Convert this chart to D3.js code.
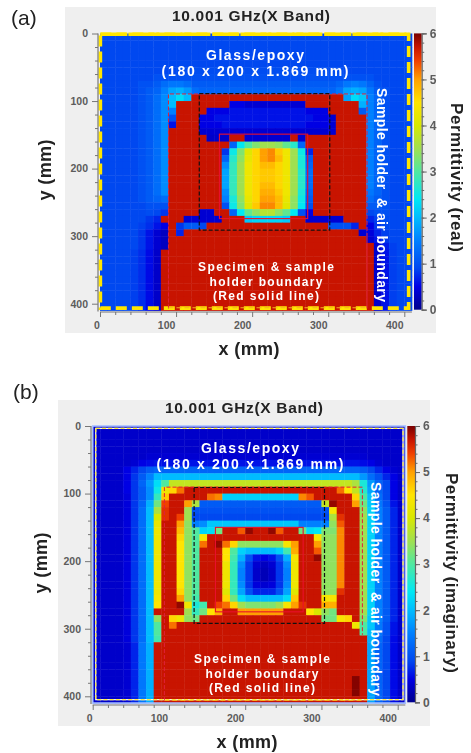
<!DOCTYPE html>
<html><head><meta charset="utf-8">
<script src="https://cdn.jsdelivr.net/npm/d3@7"></script>
<style>html,body{margin:0;padding:0;background:#fff}svg{display:block;filter:blur(.5px)}text{font-family:"Liberation Sans",Arial,sans-serif}</style>
</head><body><svg id="c" width="471" height="753"></svg>
<script>
const R = 5.7, D = 5.95;
// Panel (a): real permittivity, 41 x 41 cells of 10 mm (c0-9 | c10-19 | c20-29 | c30-40)
const realRows = [
[.9,.9,.9,.9,.9,.9,.9,.9,.9,.9, .9,.9,.9,.9,.9,.9,.9,.9,.9,.9, .9,.9,.9,.9,.9,.9,.9,.9,.9,.9, .9,.9,.9,.9,.9,.9,.9,.9,.9,.9,.9],
[.9,.9,.9,.9,.9,.9,.9,.9,.9,.9, .9,.9,.9,.9,.9,.9,.9,.9,.9,.9, .9,.9,.9,.9,.9,.9,.9,.9,.9,.9, .9,.9,.9,.9,.9,.9,.9,.9,.9,.9,.9],
[.9,.9,.9,.9,.9,.9,.9,.9,.9,.9, .9,.9,.9,.9,.9,.9,.9,.9,.9,.9, .9,.9,.9,.9,.9,.9,.9,.9,.9,.9, .9,.9,.9,.9,.9,.9,.9,.9,.9,.9,.9],
[.9,.9,.9,.9,.9,.9,.9,.9,.9,.9, .9,.9,.9,.9,.9,.9,.9,.9,.9,.9, .9,.9,.9,.9,.9,.9,.9,.9,.9,.9, .9,.9,.9,.9,.9,.9,.9,.9,.9,.9,.9],
[.9,.9,.9,.9,.9,.9,.9,.9,.9,.9, .9,.9,.9,.9,.9,.9,.9,.9,.9,.9, .9,.9,.9,.9,.9,.9,.9,.9,.9,.9, .9,.9,.9,.9,.9,.9,.9,.9,.9,.9,.9],
[.9,.9,.9,.9,.9,.9,.9,.9,.9,.9, .95,.95,.95,.95,.95,.95,.95,.95,.95,.95, .95,.95,.95,.95,.95,.95,.95,.95,.95,.95, .95,.95,.9,.9,.9,.9,.9,.9,.9,.9,.9],
[.9,.9,.9,.9,.9,.9,.9,1,1,1, 1,1,1,1,1,1,1,1,1,1, 1,1,1,1,1,1,1,1,1,1, 1,1,1,1,1,1,.9,.9,.9,.9,.9],
[.9,.9,.9,.9,.9,1,1,1.1,1.3,1.4, 1.4,1.3,1.1,1.1,1.1,1.1,1.1,1.1,1.1,1.1, 1.1,1.1,1.1,1.1,1.1,1.1,1.1,1.1,1.1,1.1, 1.1,1.2,1.4,1.5,1.4,1.2,1,.9,.9,.9,.9],
[.9,.9,.9,.9,.9,1,1.1,1.2,1.5,1.8, 1.9,1.7,1.3,1.2,1.2,1.2,1.2,1.2,1.2,1.2, 1.2,1.2,1.2,1.2,1.2,1.2,1.2,1.2,1.2,1.2, 1.2,1.4,1.8,1.9,1.8,1.4,1.1,1,.9,.9,.9],
[.9,.9,.9,.9,.9,1,1.1,1.3,1.6,2, 2.3,2,R,R,R,R,R,R,R,R, R,R,R,R,R,R,R,R,R,R, R,R,1.8,2.3,2.1,1.5,1.2,1,.9,.9,.9],
[.9,.9,.9,.9,.9,1,1.1,1.3,1.6,2, R,R,R,R,R,R,R,.5,.5,.4, .4,.4,.4,.4,.4,.4,.4,R,R,R, R,R,R,R,1.9,1.5,1.2,1,.9,.9,.9],
[.9,.9,.9,.9,.9,1,1.1,1.3,1.6,1.5, R,R,R,R,.5,.5,.5,.6,.6,.6, .6,.6,.6,.6,.6,.6,.6,.5,.5,.5, R,R,R,R,1.1,1.5,1.2,1,.9,.9,.9],
[.9,.9,.9,.9,.9,1,1.1,1.3,1.6,1, R,R,R,.5,.5,.6,.6,.6,.6,.6, .6,.6,.6,.6,.6,.6,.6,.6,.5,.5, .4,R,R,R,R,1.5,1.2,1,.9,.9,.9],
[.9,.9,.9,.9,.9,1,1.1,1.3,1.6,.6, R,R,R,.5,.5,.5,.6,.6,.6,.6, .6,.6,.6,.6,.6,.6,.6,.5,.5,.5, .4,R,R,R,R,1.5,1.2,1,.9,.9,.9],
[.9,.9,.9,.9,.9,1,1.1,1.3,1.6,R, R,R,R,.4,.4,.4,.4,.4,.4,.4, .4,.4,.4,.4,.4,.4,.4,.4,.4,.4, .4,R,R,R,R,1.5,1.2,1,.9,.9,.9],
[.9,.9,.9,.9,.9,1,1.1,1.3,1.6,R, R,R,R,R,.35,.35,.35,R,R,.4, .4,.4,.4,.4,.4,R,.4,R,R,R, R,R,R,R,R,1.5,1.2,1,.9,.9,.9],
[.9,.9,.9,.9,.9,1,1.1,1.3,1.6,R, R,R,R,R,R,R,R,1.2,2.4,3, 3.3,3.5,3.5,3.4,3.1,2.7,1.2,R,R,R, R,R,R,R,R,1.5,1.2,1,.9,.9,.9],
[.9,.9,.9,.9,.9,1,1.1,1.3,1.6,R, R,R,R,R,R,R,.8,2.5,3.3,4.1, 4.6,5,5.1,4.7,4.3,3.5,2.5,.7,R,R, R,R,R,R,R,1.5,1.2,1,.9,.9,.9],
[.9,.9,.9,.9,.9,1,1.1,1.3,1.6,R, R,R,R,R,R,R,1.2,2.7,3.4,4.2, 4.6,5,5.1,4.8,4.3,3.5,2.6,1.1,R,R, R,R,R,R,R,1.5,1.2,1,.9,.9,.9],
[.9,.9,.9,.9,.9,1,1.1,1.3,1.6,R, R,R,R,R,R,R,1.6,2.8,3.5,4.3, 4.6,4.8,4.8,4.6,4.3,3.5,2.6,1.2,R,R, R,R,R,R,R,1.5,1.2,1,.9,.9,.9],
[.9,.9,.9,.9,.9,1,1.1,1.3,1.6,R, R,R,R,R,R,R,1.8,2.8,3.5,4.3, 4.6,4.7,4.7,4.6,4.3,3.5,2.7,1.3,R,R, R,R,R,R,R,1.5,1.2,1,.9,.9,.9],
[.9,.9,.9,.9,.9,1,1.1,1.3,1.6,R, R,R,R,R,R,R,1.8,2.8,3.5,4.3, 4.6,4.7,4.7,4.6,4.3,3.5,2.7,1.3,R,R, R,R,R,R,R,1.5,1.2,1,.9,.9,.9],
[.9,.9,.9,.9,.9,1,1.1,1.3,1.6,R, R,R,R,R,R,R,1.8,2.8,3.5,4.3, 4.6,4.8,4.8,4.6,4.3,3.5,2.7,1.3,R,R, R,R,R,R,R,1.5,1.2,1,.9,.9,.9],
[.9,.9,.9,.9,.9,1,1.1,1.3,1.6,R, R,R,R,R,R,R,1.6,2.8,3.5,4.3, 4.6,4.9,4.9,4.7,4.3,3.5,2.6,1.2,R,R, R,R,R,R,R,1.4,1.2,1,.9,.9,.9],
[.9,.9,.9,.9,.9,1,1.1,1.2,1.3,R, R,R,R,R,R,R,1.5,2.6,3.4,4.2, 4.6,5,5,4.8,4.2,3.4,2.5,1.1,R,R, R,R,R,R,R,1.3,1.1,1,.9,.9,.9],
[.9,.9,.9,.9,.9,.9,1,1,1,R, R,R,R,R,R,R,1,2.5,3.3,4.1, 4.7,5.1,5.1,4.8,4.1,3.4,2.4,1,R,R, R,R,R,R,R,1.1,1.1,1,.9,.9,.9],
[.9,.9,.9,.9,.9,.9,.95,.9,.8,R, R,R,R,.4,.4,R,R,1.2,2.4,3.1, 3.4,3.7,3.7,3.4,3.1,2.4,1,.5,R,R, R,R,R,R,R,.9,1,1,.9,.9,.9],
[.9,.9,.9,.9,.9,.9,.8,.7,R,R, R,.4,.4,.4,.4,.4,R,R,R,2.1, 2.2,2.2,2.2,2.2,2.1,R,R,.4,.4,.4, .4,.4,R,R,R,.7,.85,.95,.9,.9,.9],
[.9,.9,.9,.9,.9,.85,.75,.6,.5,R, .8,1.1,1.1,.9,R,R,R,R,R,R, R,R,R,R,R,R,R,R,R,R, 1,1,1,.7,R,.5,.8,.9,.9,.9,.9],
[.9,.9,.9,.9,.9,.8,.6,.4,.3,R, .7,R,R,R,R,R,R,R,R,R, R,R,R,R,R,R,R,R,R,R, R,R,R,R,.4,.45,.7,.85,.9,.9,.9],
[.9,.9,.9,.9,.9,.8,.6,.4,.3,R, R,R,R,R,R,R,R,R,R,R, R,R,R,R,R,R,R,R,R,R, R,R,R,R,R,.4,.6,.8,.9,.9,.9],
[.9,.9,.9,.9,.9,.8,.6,.4,.3,R, R,R,R,R,R,R,R,R,R,R, R,R,R,R,R,R,R,R,R,R, R,R,R,R,R,R,.4,.65,.85,.9,.9],
[.9,.9,.9,.9,.85,.75,.55,.35,R,R, R,R,R,R,R,R,R,R,R,R, R,R,R,R,R,R,R,R,R,R, R,R,R,R,R,R,.35,.6,.85,.9,.9],
[.9,.9,.9,.9,.85,.75,.55,.35,R,R, R,R,R,R,R,R,R,R,R,R, R,R,R,R,R,R,R,R,R,R, R,R,R,R,R,R,.35,.6,.85,.9,.9],
[.9,.9,.9,.9,.85,.75,.55,.35,R,R, R,R,R,R,R,R,R,R,R,R, R,R,R,R,R,R,R,R,R,R, R,R,R,R,R,R,.35,.6,.85,.9,.9],
[.9,.9,.9,.9,.85,.75,.55,.35,R,R, R,R,R,R,R,R,R,R,R,R, R,R,R,R,R,R,R,R,R,R, R,R,R,R,R,R,.35,.6,.85,.9,.9],
[.9,.9,.9,.9,.85,.75,.55,.35,R,R, R,R,R,R,R,R,R,R,R,R, R,R,R,R,R,R,R,R,R,R, R,R,R,R,R,R,.35,.6,.85,.9,.9],
[.9,.9,.9,.9,.85,.75,.55,.35,R,R, R,R,R,R,R,R,R,R,R,R, R,R,R,R,R,R,R,R,R,R, R,R,R,R,R,R,.35,.6,.85,.9,.9],
[.9,.9,.9,.9,.85,.75,.55,.35,R,R, R,R,R,R,R,R,R,R,R,R, R,R,R,R,R,R,R,R,R,R, R,R,R,R,R,R,.35,.6,.85,.9,.9],
[.9,.9,.9,.9,.85,.75,.55,.35,R,R, R,R,R,R,R,R,R,R,R,R, R,R,R,R,R,R,R,R,R,R, R,R,R,R,R,R,.35,.6,.85,.9,.9],
[.9,.9,.9,.9,.85,.75,.55,.35,R,R, R,R,R,R,R,R,R,R,R,R, R,R,R,R,R,R,R,R,R,R, R,R,R,R,R,R,.35,.6,.85,.9,.9]
];
// Panel (b): imaginary permittivity
const imagRows = [
[.35,.35,.35,.35,.35,.35,.35,.35,.35,.35, .35,.35,.35,.35,.35,.35,.35,.35,.35,.35, .35,.35,.35,.35,.35,.35,.35,.35,.35,.35, .35,.35,.35,.35,.35,.35,.35,.35,.35,.35,.35],
[.35,.35,.35,.35,.35,.35,.35,.35,.35,.35, .35,.35,.35,.35,.35,.35,.35,.35,.35,.35, .35,.35,.35,.35,.35,.35,.35,.35,.35,.35, .35,.35,.35,.35,.35,.35,.35,.35,.35,.35,.35],
[.35,.35,.35,.35,.35,.35,.35,.35,.35,.35, .35,.35,.35,.35,.35,.35,.35,.35,.35,.35, .35,.35,.35,.35,.35,.35,.35,.35,.35,.35, .35,.35,.35,.35,.35,.35,.35,.35,.35,.35,.35],
[.35,.35,.35,.35,.35,.35,.35,.35,.35,.35, .35,.35,.35,.35,.35,.35,.35,.35,.35,.35, .35,.35,.35,.35,.35,.35,.35,.35,.35,.35, .35,.35,.35,.35,.35,.35,.35,.35,.35,.35,.35],
[.35,.35,.35,.35,.35,.35,.35,.4,.4,.4, .4,.4,.4,.4,.4,.4,.4,.4,.4,.4, .4,.4,.4,.4,.4,.4,.4,.4,.4,.4, .4,.4,.4,.4,.4,.4,.35,.35,.35,.35,.35],
[.35,.35,.35,.35,.35,.4,.5,.55,.6,.6, .6,.6,.6,.6,.6,.6,.6,.6,.6,.6, .6,.6,.6,.6,.6,.6,.6,.6,.6,.6, .6,.6,.6,.6,.6,.55,.5,.4,.35,.35,.35],
[.35,.35,.35,.35,.5,.7,.9,1.1,1.2,1.2, 1.2,1.2,1.2,1.2,1.2,1.2,1.2,1.2,1.2,1.2, 1.2,1.2,1.2,1.2,1.2,1.2,1.2,1.2,1.2,1.2, 1.2,1.2,1.2,1.2,1.2,1.1,.9,.7,.5,.4,.35],
[.35,.35,.35,.35,.5,.8,1.1,1.5,2,2, 2,2,2,2,2,2,2,2,2,2, 2,2,2,2,2,2,2,2,2,2, 2,2,2,2,2,1.7,1.3,1,.7,.5,.35],
[.35,.35,.35,.35,.5,.8,1.2,1.7,2.3,3, 3.8,3.8,3.8,3.8,3.8,3.8,3.8,3.8,3.8,3.8, 3.8,3.8,3.8,3.8,3.8,3.8,3.8,3.8,3.8,3.8, 3.8,3.8,3.8,3.8,3.6,2.6,1.7,1.2,.9,.5,.35],
[.35,.35,.35,.35,.5,.8,1.1,1.6,2.5,4.3, 4.6,5.2,R,R,R,R,R,R,R,R, R,R,R,R,R,R,R,R,R,R, R,R,5.2,4.5,3.8,2.7,1.8,1.2,.9,.5,.35],
[.35,.35,.35,.35,.45,.8,1.1,1.6,2.8,4.7, R,R,R,R,R,5.2,5.1,2.2,2.2,2.2, 2.2,2.2,2.2,2.2,2.2,2.2,2.2,5.1,5.3,R, R,R,R,R,4.6,3,2,1.3,.9,.5,.35],
[.35,.35,.35,.35,.45,.8,1.2,1.9,3.2,5.4, R,R,5,3.6,1.1,1.1,1.1,1.1,1.1,1.1, 1.1,1.1,1.1,1.1,1.1,1.1,1.1,1.1,1.1,1.1, 3.8,5.9,R,R,5,3.2,2.1,1.4,1,.6,.35],
[.35,.35,.35,.35,.45,.8,1.3,2,3.6,5.5, R,R,3.5,1,1,1,1,1,1,1, 1,1,1,1,1,1,1,1,1,1, 1,4.4,R,R,R,3.4,2.2,1.5,1.1,.7,.35],
[.35,.35,.35,.35,.45,.8,1.3,2,4,5.5, R,5.4,3.5,.9,.9,.9,.9,.9,.9,.9, .9,.9,.9,.9,.9,.9,.9,.9,.9,.9, .9,3.6,5.5,R,R,3.5,2.2,1.5,1.1,.7,.35],
[.35,.35,.35,.35,.45,.8,1.3,2,4.2,R, R,5,3.4,1.5,1.6,2.1,2.1,2.1,2.1,2.1, 2.1,2.1,2.1,2.1,2.1,2.1,2.1,1.5,1.5,1.5, 1.5,3.4,5.3,R,R,3.5,2.2,1.5,1.1,.7,.35],
[.35,.35,.35,.35,.45,.8,1.3,2,4.3,R, R,4.8,3.4,3,2.2,2.3,3.2,R,R,5.3, 5.9,R,R,5.9,5.3,R,R,3.2,2.3,2.4, 3.3,3.3,5.1,R,R,3.5,2.2,1.5,1.1,.7,.35],
[.35,.35,.35,.35,.45,.8,1.3,2,4.3,R, R,4.6,3.4,3,4.4,R,R,R,R,R, R,R,R,R,R,R,R,R,R,4.4, 3.4,3.4,5.1,R,R,3.5,2.2,1.5,1.1,.7,.35],
[.35,.35,.35,.35,.45,.8,1.3,2,4.3,R, R,4.5,3.4,3,5.2,R,5.9,5.2,4.6,3.4, 3.4,3.4,3.4,3.4,3.4,4.4,5,R,R,5, 3.4,3.4,5.1,R,R,3.5,2.2,1.5,1.1,.7,.35],
[.35,.35,.35,.35,.45,.8,1.3,2,4.3,R, R,4.5,3.4,3,R,R,R,4.5,3,2.2, 2,2,2,2,2.2,2.9,4.9,R,R,5.3, 3.4,3.4,5.1,R,R,3.5,2.2,1.5,1.1,.7,.35],
[.35,.35,.35,.35,.45,.8,1.3,2,4.3,R, R,4.5,3.4,3,R,R,R,4.5,2.9,1.9, 1,.6,.5,.6,1,1.9,4.4,R,R,5.9, 3.4,3.4,5.1,R,R,3.5,2.2,1.5,1.1,.7,.35],
[.35,.35,.35,.35,.45,.8,1.3,2,4.3,R, R,4.5,3.4,3,R,R,R,4.3,2.8,1.6, .8,.4,.3,.4,.8,1.6,4.3,R,R,R, 3.4,3.4,5.1,R,R,3.5,2.2,1.5,1.1,.7,.35],
[.35,.35,.35,.35,.45,.8,1.3,2,4.3,R, R,4.5,3.4,3,R,R,R,4.3,2.8,1.5, .8,.35,.25,.35,.8,1.5,4.3,R,R,R, 3.4,3.4,5.1,R,R,3.5,2.2,1.5,1.1,.7,.35],
[.35,.35,.35,.35,.45,.8,1.3,2,4.3,R, R,4.5,3.4,3,R,R,R,4.3,2.8,1.5, .8,.35,.25,.35,.8,1.5,4.3,R,R,R, 3.4,3.4,5.1,R,R,3.5,2.2,1.5,1.1,.7,.35],
[.35,.35,.35,.35,.45,.8,1.3,2,4.3,R, R,4.5,3.4,3,R,R,R,4.3,2.8,1.6, .8,.45,.4,.45,.8,1.6,4.3,R,R,R, 3.4,3.4,5.1,R,R,3.5,2.2,1.5,1.1,.7,.35],
[.35,.35,.35,.35,.45,.8,1.3,2,4.3,R, R,4.6,3.4,3,R,R,R,4.1,2.8,1.8, 1,.7,.7,.7,1,1.8,4.1,R,R,R, 3.4,3.4,5.5,R,R,3.5,2.2,1.5,1.1,.7,.35],
[.35,.35,.35,.35,.45,.8,1.3,2,4.4,R, R,5,3.4,2.9,R,R,R,4.6,3.2,2.3, 2,2,2,2,2,2.3,4.7,R,R,R, 4.4,4.4,R,R,R,3.5,2.2,1.5,1.1,.7,.35],
[.35,.35,.35,.35,.45,.8,1.3,2,4.5,R, R,5.9,4.3,2.6,2.9,R,5.4,5.2,4.6,3.5, 3.3,3.3,3.3,3.3,3.5,4.4,5,5.5,R,R, 4.9,4.9,R,R,R,3.5,2.2,1.5,1.1,.7,.35],
[.35,.35,.35,.35,.45,.8,1.3,2,R,R, R,R,3.5,2.8,3.2,4.5,4.9,R,R,5, 5,5,5,5,5,R,R,R,4.5,4, 3.4,3.2,R,R,R,3.5,2.2,1.5,1.1,.7,.35],
[.35,.35,.35,.35,.45,.8,1.3,2,3.4,R, 4.6,4.3,3.4,3.2,R,R,R,R,R,R, R,R,R,R,R,R,R,R,R,R, 3.2,3.2,4.4,4.6,R,3.3,2.1,1.5,1.1,.7,.35],
[.35,.35,.35,.35,.45,.8,1.3,2,3,R, 5.2,R,R,R,R,R,R,R,R,R, R,R,R,R,R,R,R,R,R,R, R,R,R,R,4.3,3,2.1,1.4,1,.6,.35],
[.35,.35,.35,.35,.45,.8,1.3,2,3,R, R,R,R,R,R,R,R,R,R,R, R,R,R,R,R,R,R,R,R,R, R,R,R,R,R,3,2,1.4,1,.6,.35],
[.35,.35,.35,.35,.45,.8,1.3,2,2.9,R, R,R,R,R,R,R,R,R,R,R, R,R,R,R,R,R,R,R,R,R, R,R,R,R,R,R,1.9,1.3,.9,.55,.35],
[.35,.35,.35,.35,.4,.7,1.4,1.9,R,R, R,R,R,R,R,R,R,R,R,R, R,R,R,R,R,R,R,R,R,R, R,R,R,R,R,R,1.8,1.2,.9,.55,.35],
[.35,.35,.35,.35,.4,.7,1.4,1.9,R,R, R,R,R,R,R,R,R,R,R,R, R,R,R,R,R,R,R,R,R,R, R,R,R,R,R,R,1.8,1.2,.9,.55,.35],
[.35,.35,.35,.35,.4,.7,1.4,1.9,R,R, R,R,R,R,R,R,R,R,R,R, R,R,R,R,R,R,R,R,R,R, R,R,R,R,R,R,1.8,1.2,.9,.55,.35],
[.35,.35,.35,.35,.4,.7,1.4,1.9,R,R, R,R,R,R,R,R,R,R,R,R, R,R,R,R,R,R,R,R,R,R, R,R,R,R,R,R,1.8,1.2,.9,.55,.35],
[.35,.35,.35,.35,.4,.7,1.4,1.9,R,R, R,R,R,R,R,R,R,R,R,R, R,R,R,R,R,R,R,R,R,R, R,R,R,R,R,R,1.8,1.2,.9,.55,.35],
[.35,.35,.35,.35,.4,.7,1.4,1.9,R,R, R,R,R,R,R,R,R,R,R,R, R,R,R,R,R,R,R,R,R,R, R,R,R,R,D,R,1.8,1.2,.9,.55,.35],
[.35,.35,.35,.35,.4,.7,1.4,1.9,R,R, R,R,R,R,R,R,R,R,R,R, R,R,R,R,R,R,R,R,R,R, R,R,R,R,D,R,1.8,1.2,.9,.55,.35],
[.35,.35,.35,.35,.4,.7,1.4,1.9,R,R, R,R,R,R,R,R,R,R,R,R, R,R,R,R,R,R,R,R,R,R, R,R,R,R,D,R,1.8,1.2,.9,.55,.35],
[.35,.35,.35,.35,.4,.7,1.4,1.9,R,R, R,R,R,R,R,R,R,R,R,R, R,R,R,R,R,R,R,R,R,R, R,R,R,R,R,R,1.8,1.2,.9,.55,.35]
];
const colorValues = [0,.5,.9,1.5,2,2.4,3,3.5,4,4.5,5,5.4,5.7,6];
const colorStops = ["#00008c","#0000e4","#0048f0","#0080ff","#00bcff","#00e8f4","#50e8a0","#a0e050","#d8e800","#ffe400","#ffa000","#f04000","#c81400","#780000"];
const majorTicks = [0,100,200,300,400];
const minorTicks = d3.range(0,420,20).filter(v=>v%100!==0);
const barTicks = [0,1,2,3,4,5,6];
const barMinor = d3.range(0,6.01,.2);
const titleText = "10.001 GHz(X Band)";
const glassLines = ["Glass/epoxy","(180 x 200 x 1.869 mm)"];
const specimenLines = ["Specimen & sample","holder boundary","(Red solid line)"];
const sideText = "Sample holder  & air boundary";

const colorOf = d3.scaleLinear().domain(colorValues).range(colorStops).clamp(true);
const svg = d3.select("#c");
const defs = svg.append("defs");
const grad = defs.append("linearGradient").attr("id","cb").attr("x1",0).attr("x2",0).attr("y1",1).attr("y2",0);
colorValues.forEach((v,i)=>grad.append("stop").attr("offset",v/6).attr("stop-color",colorStops[i]));

const layouts = [
 {rows:realRows,letter:"(a)",letterX:11,letterY:25,bg:[65,7,371,326],x0:100,x400:404.3,y0:33.5,y400:303.7,axX:98,axY:312,
  bar:[414,421.7,33.4,309.7],titleX:251,titleY:21,glassX:255,glassY:[60,76],specX:266,specY:[271,285.5,300],sideX:382,side:[88,302],
  yLabX:45,yLabY:170,xLabX:249,xLabY:355,permX:457,perm:[103,252],permText:"Permittivity (real)",
  holder:[90,351,89.5,410],black:[130.5,302,89,291],solid:[157,273,149,274],frame:[.5,405.7,1,406.5],frameColor:"#ffe600",frameW:3.6,frameDash:"11 5"},
 {rows:imagRows,letter:"(b)",letterX:13,letterY:399,bg:[58,400,372,326],x0:92.7,x400:397.7,y0:426,y400:696.3,axX:91,axY:705,
  bar:[407.3,415,426,702.3],titleX:244,titleY:413,glassX:250,glassY:[453,469],specX:262,specY:[663,677.5,692],sideX:376,side:[482,696],
  yLabX:40.7,yLabY:563,xLabX:247,xLabY:748,permX:452,perm:[473,673],permText:"Permittivity (imaginary)",
  holder:[94,353.7,90.5,309],black:[133,304,91,292],solid:[161,276,150,275],frame:[4,407,3.5,405],frameColor:"#ffec40",frameW:1.2,frameDash:"4 2.2"}
];

function label(g,txt,x,y,size,len,opts={}){
  const t=g.append("text").text(txt).attr("x",x).attr("y",y).attr("text-anchor","middle")
    .attr("font-size",size).attr("font-weight",700).attr("fill",opts.fill||"#222")
    .attr("xml:space","preserve");
  if(len)t.attr("textLength",len).attr("lengthAdjust","spacing");
  return t;
}
function vertical(g,txt,x,y0,y1,size,rot,fill,base){
  const yc=(y0+y1)/2;
  g.append("text").text(txt).attr("transform",`translate(${x},${yc}) rotate(${rot})`)
   .attr("text-anchor","middle").attr("font-size",size).attr("font-weight",700).attr("fill",fill)
   .attr("dy",base).attr("textLength",y1-y0).attr("lengthAdjust","spacing").attr("xml:space","preserve");
}
function styleAxis(a,color){a.selectAll("path,line").attr("stroke",color);a.select(".domain").attr("stroke-width",1.2);}

layouts.forEach(L=>{
  const isA=L.letter==="(a)";
  const g=svg.append("g");
  g.append("rect").attr("x",L.bg[0]).attr("y",L.bg[1]).attr("width",L.bg[2]).attr("height",L.bg[3]).attr("fill","#efefef");
  const x=d3.scaleLinear().domain([0,400]).range([L.x0,L.x400]);
  const y=d3.scaleLinear().domain([0,400]).range([L.y0,L.y400]);
  const cw=x(10)-x(0), ch=y(10)-y(0);
  const cellData=L.rows.flatMap((row,r)=>row.map((v,c)=>({r,c,v})));
  g.append("g").selectAll("rect").data(cellData).join("rect")
    .attr("x",d=>x(d.c*10)).attr("y",d=>y(d.r*10)).attr("width",cw+.4).attr("height",ch+.4)
    .attr("fill",d=>colorOf(d.v));
  const X0=x(0),X1=x(410),Y0=y(0),Y1=y(410);
  const F=L.frame;
  if(!isA){
    g.append("rect").attr("x",X0).attr("y",Y0).attr("width",X1-X0).attr("height",Y1-Y0).attr("fill","none").attr("stroke","#a8c0ff").attr("stroke-width",1.6);
    g.append("rect").attr("x",x(F[0])).attr("y",y(F[2])).attr("width",x(F[1])-x(F[0])).attr("height",y(F[3])-y(F[2])).attr("fill","none").attr("stroke","#fff").attr("stroke-width",1.2);
  }
  g.append("rect").attr("x",x(F[0])).attr("y",y(F[2])).attr("width",x(F[1])-x(F[0])).attr("height",y(F[3])-y(F[2]))
    .attr("fill","none").attr("stroke",L.frameColor).attr("stroke-width",L.frameW).attr("stroke-dasharray",L.frameDash);
  if(isA) g.append("line").attr("x1",x(F[0])).attr("x2",x(F[1])).attr("y1",y(F[2])).attr("y2",y(F[2])).attr("stroke",L.frameColor).attr("stroke-width",L.frameW).attr("stroke-dasharray","26 2");
  const H=L.holder, joint=isA?300:H[3];
  const hp=d3.path();
  hp.moveTo(x(H[0]),y(410)-2); hp.lineTo(x(H[0]),y(H[2])); hp.lineTo(x(H[1]),y(H[2])); hp.lineTo(x(H[1]),y(joint));
  g.append("path").attr("d",hp.toString()).attr("fill","none").attr("stroke","#e0203a").attr("stroke-width",1).attr("stroke-dasharray","4 2");
  if(isA) g.append("line").attr("x1",x(H[1])).attr("x2",x(H[1])).attr("y1",y(joint)).attr("y2",y(410)-2).attr("stroke","#e0203a").attr("stroke-width",1);
  g.append("line").attr("x1",x(H[0])).attr("x2",x(H[1])).attr("y1",y(406)).attr("y2",y(406)).attr("stroke","#f5b020").attr("stroke-width",1.2).attr("stroke-dasharray","5 3");
  const B=L.black;
  g.append("rect").attr("x",x(B[0])).attr("y",y(B[2])).attr("width",x(B[1])-x(B[0])).attr("height",y(B[3])-y(B[2]))
    .attr("fill","none").attr("stroke","#111").attr("stroke-width",1.2).attr("stroke-dasharray","4 2");
  const S=L.solid;
  g.append("rect").attr("x",x(S[0])).attr("y",y(S[2])).attr("width",x(S[1])-x(S[0])).attr("height",y(S[3])-y(S[2]))
    .attr("fill","none").attr("stroke","#e8102c").attr("stroke-width",1.1);
  const ayMajor=g.append("g").attr("transform",`translate(${L.axX},0)`).call(d3.axisLeft(y).tickValues(majorTicks).tickSize(6).tickFormat(d3.format("d")));
  const ayMinor=g.append("g").attr("transform",`translate(${L.axX},0)`).call(d3.axisLeft(y).tickValues(minorTicks).tickSize(3).tickFormat(""));
  const axMajor=g.append("g").attr("transform",`translate(0,${L.axY})`).call(d3.axisBottom(x).tickValues(majorTicks).tickSize(5).tickFormat(d3.format("d")));
  const axMinor=g.append("g").attr("transform",`translate(0,${L.axY})`).call(d3.axisBottom(x).tickValues(minorTicks).tickSize(3).tickFormat(""));
  [ayMajor,ayMinor,axMajor,axMinor].forEach(a=>styleAxis(a,"#777"));
  ayMajor.select(".domain").attr("d",`M0,${Y0}V${Y1+1}`); ayMinor.select(".domain").remove();
  axMajor.select(".domain").attr("d",`M${X0},0H${X1}`); axMinor.select(".domain").remove();
  ayMajor.selectAll("text").attr("font-size",10.5).attr("font-weight",700).attr("fill","#5c5c5c").attr("font-family",'"Liberation Sans"').attr("x",-10);
  axMajor.selectAll("text").attr("font-size",10.5).attr("font-weight",700).attr("fill","#5c5c5c").attr("font-family",'"Liberation Sans"').attr("y",10).attr("dx",d=>d===0?-3.5:-10);
  const b=L.bar;
  g.append("rect").attr("x",b[0]).attr("y",b[2]).attr("width",b[1]-b[0]).attr("height",b[3]-b[2]).attr("fill","url(#cb)");
  const cy=d3.scaleLinear().domain([0,6]).range([b[3],b[2]]);
  const cMajor=g.append("g").attr("transform",`translate(${b[1]},0)`).call(d3.axisRight(cy).tickValues(barTicks).tickSize(5).tickFormat(d3.format("d")));
  const cMinor=g.append("g").attr("transform",`translate(${b[1]},0)`).call(d3.axisRight(cy).tickValues(barMinor).tickSize(2.5).tickFormat(""));
  styleAxis(cMajor,"#666");styleAxis(cMinor,"#666");cMinor.select(".domain").remove();
  cMajor.selectAll("text").attr("font-size",12).attr("font-weight",700).attr("fill","#5c5c5c").attr("font-family",'"Liberation Sans"').attr("x",8);
  g.append("text").text(L.letter).attr("x",L.letterX).attr("y",L.letterY).attr("font-size",21).attr("fill","#222");
  label(g,titleText,L.titleX,L.titleY,15.5,158);
  glassLines.forEach((t,i)=>label(g,t,L.glassX,L.glassY[i],14,i?187:98,{fill:"#fff"}));
  specimenLines.forEach((t,i)=>label(g,t,L.specX,L.specY[i],12,[136,113,106][i],{fill:"#fff"}));
  vertical(g,sideText,L.sideX,L.side[0],L.side[1],14,90,"#fff",".35em");
  vertical(g,"y (mm)",L.yLabX,L.yLabY-30.5,L.yLabY+30.5,18,-90,"#222",".35em");
  label(g,"x (mm)",L.xLabX,L.xLabY,18,61);
  vertical(g,L.permText,L.permX,L.perm[0],L.perm[1],17,90,"#222",".35em");
});
</script></body></html>
